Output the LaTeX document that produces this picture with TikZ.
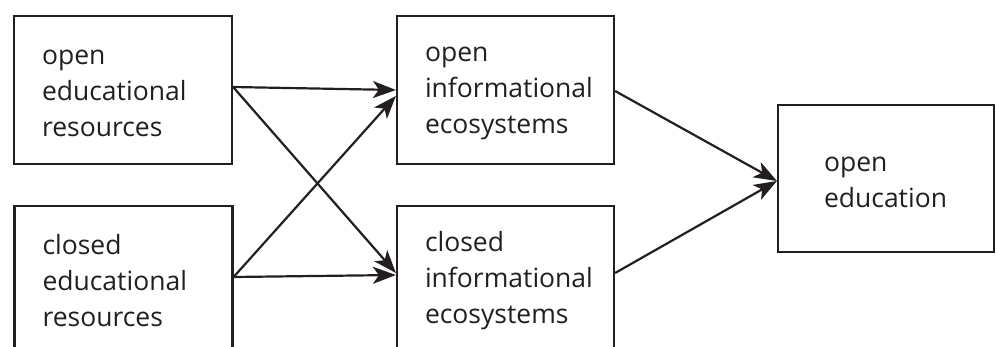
\documentclass[tikz,border=0pt]{standalone}
\usepackage{fontspec}
\setmainfont{Open Sans}
\usetikzlibrary{arrows.meta}
\definecolor{ink}{HTML}{231F20}
\newcommand\tup{\rule{0pt}{22pt}}
\begin{document}
\begin{tikzpicture}[x=1pt,y=-1pt,
  box/.style={draw=ink, line width=2.2pt, rectangle, minimum width=#1, minimum height=148pt,
    text width=#1-56pt, inner xsep=28pt, inner ysep=0pt, align=left, text=ink,
    font=\fontsize{26.5}{36}\selectfont},
  box/.default=218pt,
  conn/.style={draw=ink, line width=2.2pt, -{Stealth[length=23pt,width=17pt,inset=6pt]}}]
\useasboundingbox (0,0) rectangle (995,347);
\node[box] (oer) at (123,90) {\tup open\\educational\\resources};
\node[box] (cer) at (123.5,280) {\tup closed\\educational\\resources};
\node[box=217pt] (oie) at (505.5,90) {\tup open\\informational\\ecosystems};
\node[box=217pt] (cie) at (505.5,280) {\tup closed\\informational\\ecosystems};
\node[box=216pt, minimum height=147pt, inner xsep=46pt, text width=124pt] (oe) at (886,178.5) {\tup open\\education};
\draw[conn] ([yshift=3pt]oer.east) -- (oie.west);
\draw[conn] ([yshift=3pt]oer.east) -- ([yshift=7pt]cie.west);
\draw[conn] ([yshift=3pt]cer.east) -- ([yshift=-6pt]oie.west);
\draw[conn] ([yshift=3pt]cer.east) -- ([yshift=5pt]cie.west);
\draw[conn] ([yshift=-1pt]oie.east) -- ([yshift=-2.5pt]oe.west);
\draw[conn] ([yshift=7pt]cie.east) -- ([yshift=-2.5pt]oe.west);
\end{tikzpicture}
\end{document}
